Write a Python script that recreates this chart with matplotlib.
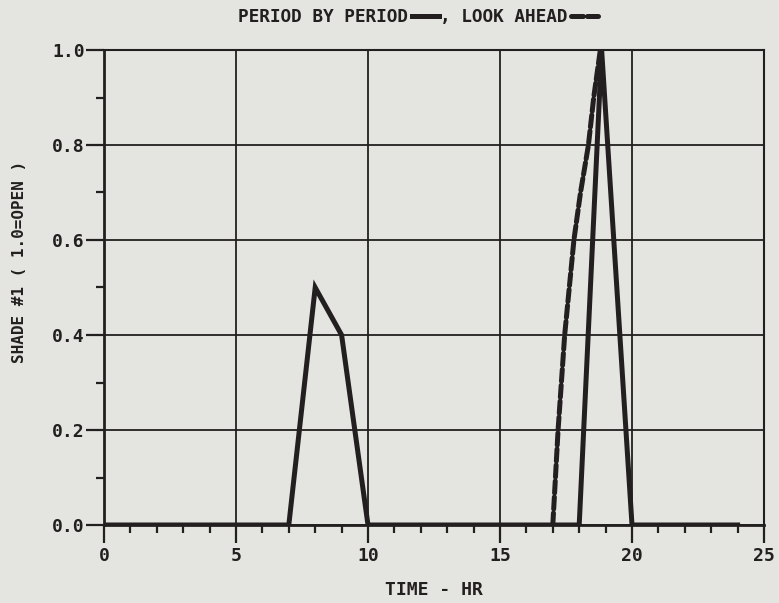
import matplotlib
matplotlib.use('Agg')
import matplotlib.pyplot as plt
from matplotlib.ticker import MultipleLocator

# period by period (solid)
period_hr = [0, 7, 8, 9, 10, 18, 18.85, 20, 24]
period_shade = [0, 0, 0.5, 0.4, 0, 0, 1.0, 0, 0]

# look ahead (dashed)
ahead_hr = [17.0, 17.2, 17.45, 17.8, 18.05, 18.35, 18.55, 18.8]
ahead_shade = [0, 0.2, 0.4, 0.6, 0.7, 0.8, 0.9, 1.0]

x_ticks = [0, 5, 10, 15, 20, 25]
y_ticks = [0.0, 0.2, 0.4, 0.6, 0.8, 1.0]

BG = '#e4e4e0'
INK = '#231f20'

plt.rcParams['font.family'] = 'DejaVu Sans Mono'
plt.rcParams['font.weight'] = 'bold'
plt.rcParams['axes.labelweight'] = 'bold'

fig = plt.figure(figsize=(7.79, 6.03), dpi=100, facecolor=BG)
ax = fig.add_axes([104 / 779, 1 - 525 / 603, 660 / 779, 475 / 603])
ax.set_facecolor(BG)

ax.plot(period_hr, period_shade, color=INK, lw=3.6, solid_joinstyle='miter',
        label='PERIOD BY PERIOD', zorder=3)
ax.plot(ahead_hr, ahead_shade, color=INK, lw=3.6, dashes=(2.4, 0.8),
        dash_capstyle='round', label=', LOOK AHEAD', zorder=3)

ax.set_xlim(0, 25)
ax.set_ylim(0, 1.0)
ax.set_xticks(x_ticks)
ax.set_yticks(y_ticks)
ax.set_xticklabels([str(v) for v in x_ticks])
ax.set_yticklabels(['%.1f' % v for v in y_ticks])
ax.xaxis.set_minor_locator(MultipleLocator(1))
ax.yaxis.set_minor_locator(MultipleLocator(0.1))

ax.grid(True, which='major', color=INK, lw=1.3)
ax.tick_params(which='major', direction='out', length=13, width=1.6,
               color=INK, labelsize=13, labelcolor=INK)
ax.tick_params(axis='x', which='major', pad=3)
ax.tick_params(axis='y', which='major', pad=1)
ax.tick_params(which='minor', direction='out', length=6, width=1.6, color=INK)
for sp in ax.spines.values():
    sp.set_color(INK)
    sp.set_linewidth(1.5)
ax.spines['left'].set_linewidth(2)
ax.spines['bottom'].set_linewidth(2)

ax.set_xlabel('TIME - HR', fontsize=13, color=INK)
ax.set_ylabel('SHADE #1 ( 1.0=OPEN )', fontsize=11.5, color=INK)
ax.xaxis.set_label_coords(0.5, -0.118)
ax.yaxis.set_label_coords(-0.117, 0.554)

leg = ax.legend(ncol=2, markerfirst=False, frameon=False, loc='center',
                bbox_to_anchor=(0.476, 1.069), fontsize=12.8, handlelength=1.5,
                handletextpad=0.2, columnspacing=0.1, borderpad=0)
for t in leg.get_texts():
    t.set_color(INK)

fig.savefig('out.png', dpi=100, facecolor=BG)
